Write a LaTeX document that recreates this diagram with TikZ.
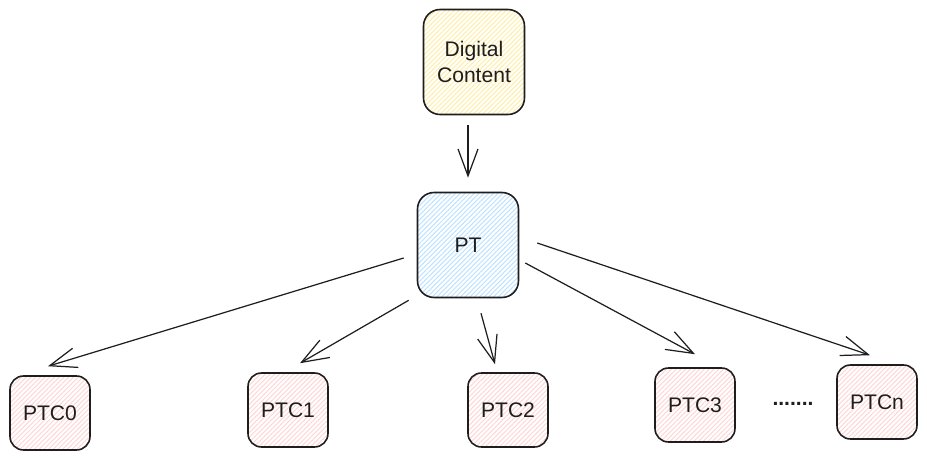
\documentclass[tikz,border=0pt]{standalone}
\usepackage{fontspec}
\setmainfont{Liberation Sans}
\usetikzlibrary{calc,arrows.meta,patterns.meta}
\definecolor{inkline}{HTML}{1E1E1E}
\definecolor{dcyellow}{HTML}{FFEDA8}
\definecolor{ptblue}{HTML}{BEE2FF}
\definecolor{ptcred}{HTML}{FFD6D6}
\tikzset{
	box/.style={draw=inkline, line width=0.9pt, align=center, inner sep=0pt,
			text=inkline, font=\fontsize{12}{15}\selectfont,
			pattern={Lines[angle=45,distance=1.9pt,line width=0.6pt]}, pattern color=#1},
	bigbox/.style={box=#1, rounded corners=0.33cm, minimum width=2.02cm, minimum height=2.1cm},
	smallbox/.style={box=#1, rounded corners=0.27cm, minimum width=1.6cm, minimum height=1.48cm},
	arr/.style={-{Straight Barb[length=5.4mm,width=4mm]}, line width=0.7pt, inkline}
}

\begin{document}
\begin{tikzpicture}[x=0.02cm, y=-0.02cm]
	\useasboundingbox (0,0) rectangle (927,460);

	\node[bigbox=dcyellow] (dc) at (474,62) {Digital\\Content};
	\node[bigbox=ptblue] (pt) at (468,245) {PT};

	\node[smallbox=ptcred] (ptc0) at (50,413) {PTC0};
	\node[smallbox=ptcred] (ptc1) at (288,410) {PTC1};
	\node[smallbox=ptcred] (ptc2) at (508,410) {PTC2};
	\node[smallbox=ptcred] (ptc3) at (695,405) {PTC3};
	\node[text=inkline, font=\fontsize{12}{15}\selectfont\bfseries] (dots) at (793,404) {.......};
	\node[smallbox=ptcred] (ptcn) at (877,402) {PTCn};

	\draw[arr] ($(dc.south)+(-6,10)$) -- ($(pt.north)+(0,-14)$);

	\draw[arr] ($(pt.west)+(-13,13)$) -- ($(ptc0.north)+(-2,-9)$);
	\draw[arr] ($(pt.south west)+(-8,2)$) -- ($(ptc1.north)+(12,-9)$);
	\draw[arr] ($(pt.south)+(13,15)$) -- ($(ptc2.north)+(-13,-8)$);
	\draw[arr] ($(pt.east)+(6,18)$) -- ($(ptc3.north)+(0,-13)$);
	\draw[arr] ($(pt.east)+(18,-2)$) -- ($(ptcn.north)+(-7,-9)$);
\end{tikzpicture}
\end{document}
